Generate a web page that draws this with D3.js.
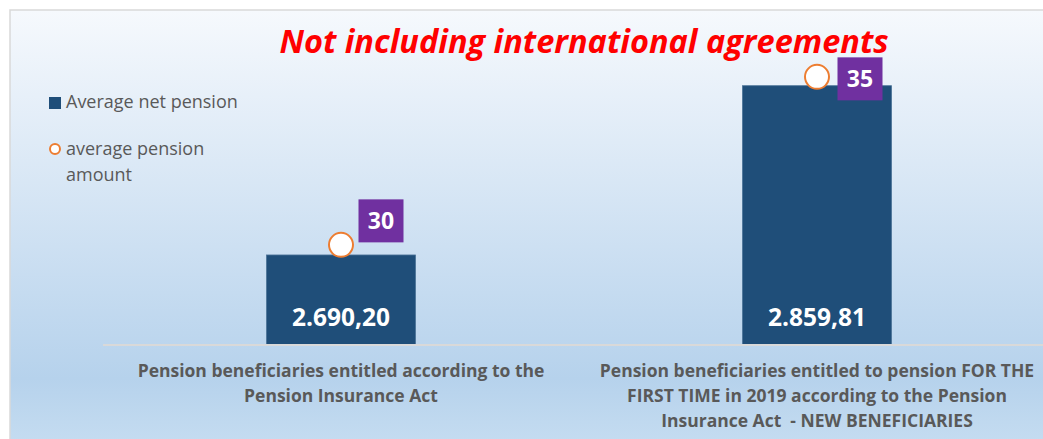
<!DOCTYPE html>
<html>
<head>
<meta charset="utf-8">
<script src="https://cdn.jsdelivr.net/npm/d3@7"></script>
<style>
    body { margin: 0; background: #ffffff; }
    #chart-area { width: 1043px; height: 439px; }
    text { font-family: "Open Sans", Lato, sans-serif; white-space: pre; }
</style>
</head>
<body>
<div id="chart-area"></div>
<script>

// data
let categories = [
    ["Pension beneficiaries entitled according to the", "Pension Insurance Act"],
    ["Pension beneficiaries entitled to pension FOR THE", "FIRST TIME in 2019 according to the Pension", "Insurance Act  - NEW BENEFICIARIES"]
];
let netPension = [2690.20, 2859.81];
let pensionAmount = [30, 35];
let netPensionLabels = ["2.690,20", "2.859,81"];
let seriesNames = ["Average net pension", ["average pension", "amount"]];
let chartTitle = "Not including international agreements";

// layout
let width = 1043, height = 439;
let margin = {top: 45.6, right: -12, bottom: 94, left: 103};
// label box nudges relative to the circle (manually placed in the original)
let labelNudge = [{dx: 40, dy: -24}, {dx: 43, dy: 2}];

let svg = d3.select("#chart-area").append("svg")
    .attr("width", width)
    .attr("height", height);

// background gradient
let grad = svg.append("defs").append("linearGradient")
    .attr("id", "bgGrad")
    .attr("x1", 0).attr("y1", 0).attr("x2", 0).attr("y2", 1);
grad.append("stop").attr("offset", "0%").attr("stop-color", "#f6f9fd");
grad.append("stop").attr("offset", "84%").attr("stop-color", "#b6d2ec");
grad.append("stop").attr("offset", "100%").attr("stop-color", "#c6ddf1");

svg.append("rect")
    .attr("x", 10).attr("y", 10)
    .attr("width", width + 10).attr("height", height)
    .attr("fill", "url(#bgGrad)")
    .attr("stroke", "#d9d9d9")
    .attr("stroke-width", 1.5);

let plotBottom = height - margin.bottom;

// scales
let x = d3.scaleBand()
    .domain(d3.range(categories.length))
    .range([margin.left, width - margin.right])
    .padding(0);

let y = d3.scaleLinear()
    .domain([2600, 2900])
    .range([plotBottom, margin.top]);

let y2 = d3.scaleLinear()
    .domain([27.02, 35.93])
    .range([plotBottom, margin.top]);

let barWidth = x.bandwidth() * 0.313;

// title
svg.append("text")
    .attr("x", 584)
    .attr("y", 53)
    .attr("text-anchor", "middle")
    .attr("fill", "#ff0000")
    .style("font-size", "32.5px")
    .style("font-weight", "bold")
    .style("font-style", "italic")
    .text(chartTitle);

// bars
svg.append("g").selectAll("rect")
    .data(netPension)
    .join("rect")
    .attr("x", (d, i) => x(i) + x.bandwidth() / 2 - barWidth / 2)
    .attr("y", d => y(d))
    .attr("width", barWidth)
    .attr("height", d => plotBottom - y(d))
    .attr("fill", "#1f4e79")
    .attr("stroke", "#4a7297")
    .attr("stroke-width", 0.8);

// bar value labels
svg.append("g").selectAll("text")
    .data(netPensionLabels)
    .join("text")
    .attr("x", (d, i) => x(i) + x.bandwidth() / 2)
    .attr("y", plotBottom - 19)
    .attr("text-anchor", "middle")
    .attr("fill", "#ffffff")
    .style("font-size", "24.5px")
    .style("font-weight", "bold")
    .text(d => d);

// baseline
svg.append("line")
    .attr("x1", margin.left).attr("x2", width)
    .attr("y1", plotBottom).attr("y2", plotBottom)
    .attr("stroke", "#d9d9d9")
    .attr("stroke-width", 2);

// category labels
let catG = svg.append("g").selectAll("text")
    .data(categories)
    .join("text")
    .attr("text-anchor", "middle")
    .attr("fill", "#595959")
    .style("font-size", "17.5px")
    .style("font-weight", "bold");

catG.selectAll("tspan")
    .data((d, i) => d.map(line => ({line: line, i: i})))
    .join("tspan")
    .attr("x", d => x(d.i) + x.bandwidth() / 2)
    .attr("y", (d, j) => plotBottom + 32 + j * 25)
    .text(d => d.line);

// circles for pension amount
svg.append("g").selectAll("circle")
    .data(pensionAmount)
    .join("circle")
    .attr("cx", (d, i) => x(i) + x.bandwidth() / 2)
    .attr("cy", d => y2(d))
    .attr("r", 12)
    .attr("fill", "#ffffff")
    .attr("stroke", "#ed7d31")
    .attr("stroke-width", 2);

// purple data labels
let lblG = svg.append("g").selectAll("g")
    .data(pensionAmount)
    .join("g")
    .attr("transform", (d, i) => `translate(${x(i) + x.bandwidth() / 2 + labelNudge[i].dx}, ${y2(d) + labelNudge[i].dy})`);

lblG.append("rect")
    .attr("x", -22.5).attr("y", -21.5)
    .attr("width", 45).attr("height", 43)
    .attr("fill", "#7030a0");

lblG.append("text")
    .attr("text-anchor", "middle")
    .attr("y", 8.5)
    .attr("fill", "#ffffff")
    .style("font-size", "23px")
    .style("font-weight", "bold")
    .text(d => d);

// legend
let legend = svg.append("g");

legend.append("rect")
    .attr("x", 49).attr("y", 97)
    .attr("width", 12).attr("height", 12)
    .attr("fill", "#1f4e79");

legend.append("text")
    .attr("x", 66).attr("y", 108)
    .attr("fill", "#595959")
    .style("font-size", "18px")
    .text(seriesNames[0]);

legend.append("circle")
    .attr("cx", 55).attr("cy", 149)
    .attr("r", 5)
    .attr("fill", "#ffffff")
    .attr("stroke", "#ed7d31")
    .attr("stroke-width", 2);

legend.append("text")
    .attr("fill", "#595959")
    .style("font-size", "18px")
    .selectAll("tspan")
    .data(seriesNames[1])
    .join("tspan")
    .attr("x", 66)
    .attr("y", (d, i) => 155 + i * 26)
    .text(d => d);

</script>
</body>
</html>
